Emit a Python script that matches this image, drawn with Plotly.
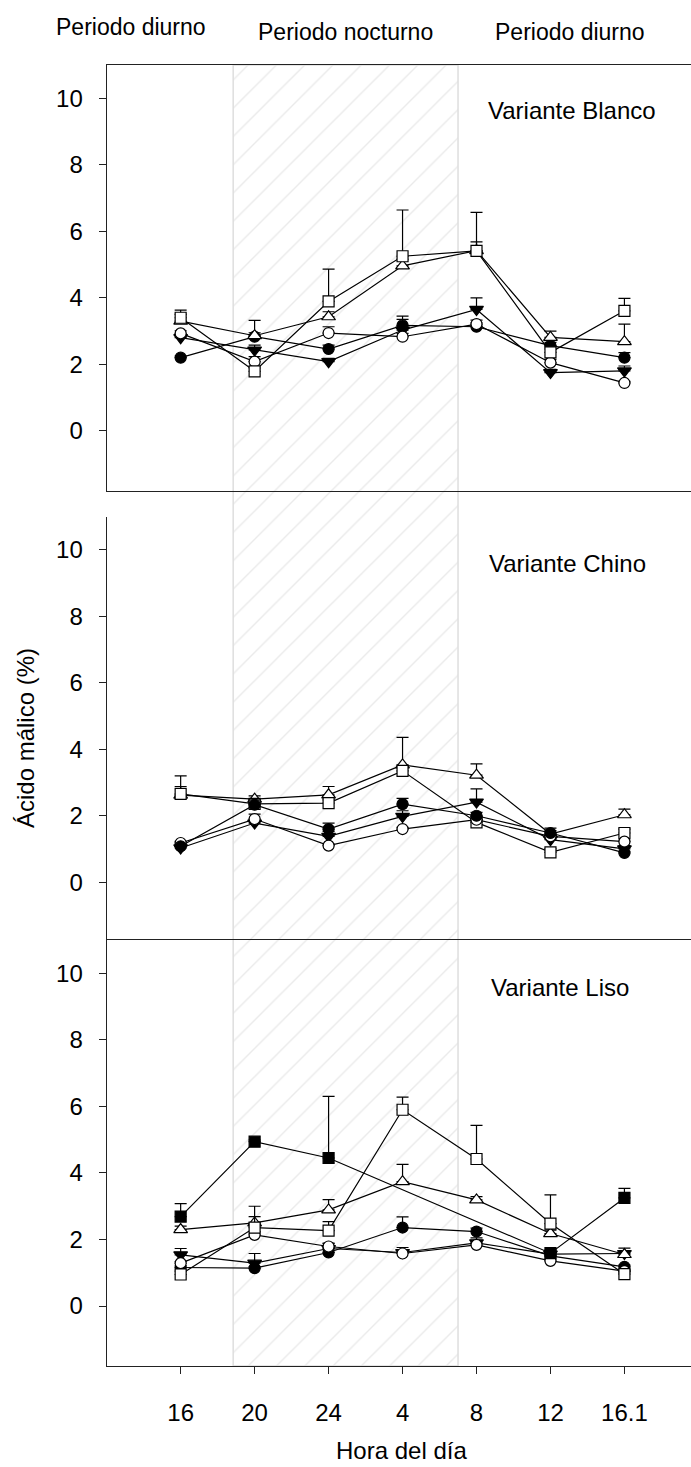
import plotly.graph_objects as go

# ---------------- data ----------------
hours = [0, 1, 2, 3, 4, 5, 6]
hour_labels = ["16", "20", "24", "4", "8", "12", "16.1"]
night_start, night_end = 0.71, 3.75   # night period (hatched), in hour-category units

# Variante Blanco
B_fc = [2.20, 2.83, 2.46, 3.17, 3.13, 2.56, 2.20]
B_oc = [2.93, 2.08, 2.94, 2.83, 3.21, 2.05, 1.44]
B_ft = [2.80, 2.43, 2.08, 3.03, 3.65, 1.75, 1.80]
B_ot = [3.30, 2.86, 3.43, 4.96, 5.42, 2.81, 2.68]
B_os = [3.40, 1.79, 3.89, 5.25, 5.41, 2.36, 3.61]
B_fc_e = [0.05, 0.12, 0.12, 0.28, 0.12, 0.10, 0.15]
B_oc_e = [0.08, 0.15, 0.19, 0.10, 0.12, 0.10, 0.05]
B_ft_e = [0.10, 0.15, 0.10, 0.32, 0.35, 0.10, 0.15]
B_ot_e = [0.20, 0.46, 0.15, 0.20, 0.26, 0.19, 0.53]
B_os_e = [0.23, 0.10, 0.97, 1.39, 1.16, 0.10, 0.37]

# Variante Chino
C_fc = [1.08, 2.33, 1.60, 2.35, 2.00, 1.48, 0.88]
C_oc = [1.18, 1.90, 1.10, 1.60, 1.88, 1.38, 1.22]
C_ft = [1.03, 1.78, 1.38, 1.98, 2.41, 1.28, 1.00]
C_ot = [2.62, 2.50, 2.63, 3.53, 3.22, 1.45, 2.03]
C_os = [2.66, 2.36, 2.38, 3.35, 1.80, 0.90, 1.48]
C_fc_e = [0.05, 0.15, 0.18, 0.17, 0.10, 0.15, 0.05]
C_oc_e = [0.05, 0.15, 0.05, 0.05, 0.10, 0.10, 0.05]
C_ft_e = [0.05, 0.10, 0.15, 0.17, 0.40, 0.10, 0.10]
C_ot_e = [0.26, 0.10, 0.25, 0.83, 0.34, 0.10, 0.17]
C_os_e = [0.54, 0.10, 0.10, 0.10, 0.10, 0.10, 0.12]

# Variante Liso
L_fc = [1.16, 1.14, 1.61, 2.36, 2.24, 1.51, 1.18]
L_oc = [1.29, 2.14, 1.79, 1.58, 1.84, 1.36, 1.05]
L_ft = [1.54, 1.29, 1.73, 1.61, 1.90, 1.56, 1.58]
L_ot = [2.30, 2.50, 2.89, 3.74, 3.19, 2.18, 1.55]
L_os = [0.95, 2.36, 2.27, 5.90, 4.42, 2.48, 0.96]
L_fs = [2.69, 4.94, 4.45, None, None, 1.59, 3.25]
L_fc_e = [0.05, 0.05, 0.10, 0.32, 0.10, 0.10, 0.05]
L_oc_e = [0.05, 0.10, 0.10, 0.10, 0.05, 0.05, 0.05]
L_ft_e = [0.19, 0.29, 0.15, 0.15, 0.15, 0.10, 0.16]
L_ot_e = [0.10, 0.50, 0.31, 0.52, 0.10, 0.10, 0.10]
L_os_e = [0.10, 0.33, 0.27, 0.38, 1.01, 0.86, 0.10]
L_fs_e = [0.39, 0.05, 1.85, None, None, 0.10, 0.29]

panel_titles = ["Variante Blanco", "Variante Chino", "Variante Liso"]
period_labels = ["Periodo diurno", "Periodo nocturno", "Periodo diurno"]

# ---------------- layout helpers ----------------
W, H = 691, 1467
FONT = "Liberation Sans, Arial, sans-serif"
def py(px):
    return 1 - px / H

xdom = [106.7 / W, 1.0]
xrange_ = [-1, 6.9]
yrange_ = [-1.8, 11]
panels = [  # (top px, bottom px)
    (65.0, 490.7),
    (516.7, 942.0),
    (940.0, 1366.0),
]

styles = {
    "ft": dict(symbol="triangle-down", color="black", size=12),
    "fc": dict(symbol="circle", color="black", size=11),
    "oc": dict(symbol="circle", color="white", size=11),
    "ot": dict(symbol="triangle-up", color="white", size=12),
    "os": dict(symbol="square", color="white", size=11),
    "fs": dict(symbol="square", color="black", size=11),
}

fig = go.Figure()

# hatch background (night) on its own hidden subplot (drawn first)
fig.add_trace(go.Scatter(
    x=[night_start, night_end, night_end, night_start, night_start],
    y=[0, 0, 1, 1, 0], mode="lines", fill="toself",
    fillcolor="rgba(0,0,0,0)",
    fillpattern=dict(shape="/", fgcolor="#d6d6d6", bgcolor="rgba(255,255,255,0)",
                     size=20, solidity=0.07),
    line=dict(color="#dedede", width=1.5),
    xaxis="x", yaxis="y", showlegend=False, hoverinfo="skip"))

datasets = [
    [("ft", B_ft, B_ft_e), ("fc", B_fc, B_fc_e), ("oc", B_oc, B_oc_e),
     ("ot", B_ot, B_ot_e), ("os", B_os, B_os_e)],
    [("ot", C_ot, C_ot_e), ("os", C_os, C_os_e), ("ft", C_ft, C_ft_e),
     ("oc", C_oc, C_oc_e), ("fc", C_fc, C_fc_e)],
    [("ft", L_ft, L_ft_e), ("fc", L_fc, L_fc_e), ("oc", L_oc, L_oc_e),
     ("ot", L_ot, L_ot_e), ("os", L_os, L_os_e), ("fs", L_fs, L_fs_e)],
]

for i, series in enumerate(datasets):
    xa = "x%d" % (i + 2)
    ya = "y%d" % (i + 2)
    for key, vals, errs in series:
        st = styles[key]
        fig.add_trace(go.Scatter(
            x=hours, y=vals, mode="lines+markers", connectgaps=True,
            xaxis=xa, yaxis=ya, showlegend=False, cliponaxis=False,
            line=dict(color="black", width=1.2),
            marker=dict(symbol=st["symbol"], size=st["size"], color=st["color"],
                        line=dict(color="black", width=1.2)),
            error_y=dict(type="data", symmetric=False, array=errs,
                         arrayminus=[0 if e is not None else None for e in errs],
                         color="black", thickness=1.2, width=6),
        ))

layout = dict(
    width=W, height=H, margin=dict(l=0, r=0, t=0, b=0),
    paper_bgcolor="white", plot_bgcolor="rgba(0,0,0,0)",
    font=dict(family=FONT, color="black", size=24),
    showlegend=False,
    xaxis=dict(domain=xdom, range=xrange_, visible=False),
    yaxis=dict(domain=[py(1366), py(65)], range=[0, 1], visible=False),
)

for i, (t, b) in enumerate(panels):
    n = i + 2
    xa = dict(domain=xdom, range=xrange_, showgrid=False, zeroline=False,
              anchor="y%d" % n, tickvals=hours, ticktext=hour_labels)
    if i == 0:
        xa.update(showline=True, mirror=True, linecolor="#222", linewidth=1.3,
                  ticks="", showticklabels=False)
    elif i == 1:
        xa.update(showline=False, ticks="", showticklabels=False)
    else:
        xa.update(showline=True, mirror=True, linecolor="#222", linewidth=1.3,
                  ticks="outside", ticklen=7, tickwidth=1.3, tickcolor="#222",
                  tickfont=dict(size=24, family=FONT), ticklabelstandoff=18)
    ya = dict(domain=[py(b), py(t)], range=yrange_, anchor="x%d" % n,
              showgrid=False, zeroline=False, showline=True, linecolor="#222",
              linewidth=1.3, ticks="outside", ticklen=7, tickwidth=1.3,
              tickcolor="#222", tickvals=[0, 2, 4, 6, 8, 10],
              tickfont=dict(size=24, family=FONT), ticklabelstandoff=11)
    layout["xaxis%d" % n] = xa
    layout["yaxis%d" % n] = ya

fig.update_layout(**layout)

ann = []
# period labels
for txt, xc, yc in zip(period_labels, [131, 345, 570], [27, 32, 32]):
    ann.append(dict(text=txt, x=xc / W, y=py(yc), xref="paper", yref="paper",
                    showarrow=False, xanchor="center", yanchor="middle",
                    font=dict(size=23, family=FONT)))
# panel titles
for txt, xc, yc in zip(panel_titles, [572, 567, 560], [110, 563, 987]):
    ann.append(dict(text=txt, x=xc / W, y=py(yc), xref="paper", yref="paper",
                    showarrow=False, xanchor="center", yanchor="middle",
                    font=dict(size=24, family=FONT)))
# axis titles
ann.append(dict(text="Ácido málico (%)", x=25 / W, y=py(738), xref="paper",
                yref="paper", showarrow=False, textangle=-90,
                xanchor="center", yanchor="middle", font=dict(size=24, family=FONT)))
ann.append(dict(text="Hora del día", x=401 / W, y=py(1450), xref="paper",
                yref="paper", showarrow=False, xanchor="center", yanchor="middle",
                font=dict(size=24, family=FONT)))
fig.update_layout(annotations=ann)

fig.write_html("out.html", config={"displayModeBar": False},
               post_script="document.body.style.margin='0';")
